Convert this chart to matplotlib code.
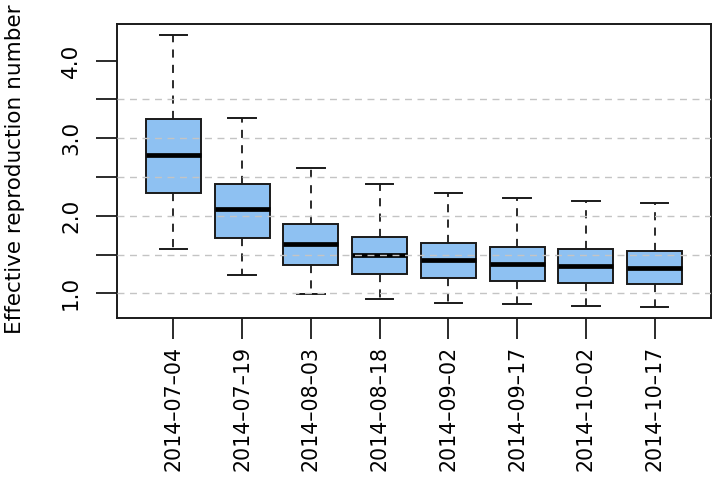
import matplotlib
matplotlib.use("Agg")
import matplotlib.pyplot as plt

dates = ["2014-07-04", "2014-07-19", "2014-08-03", "2014-08-18",
         "2014-09-02", "2014-09-17", "2014-10-02", "2014-10-17"]
whisk_lo = [1.572, 1.232, 0.996, 0.923, 0.880, 0.858, 0.836, 0.823]
q1 = [2.294, 1.714, 1.365, 1.254, 1.198, 1.159, 1.133, 1.120]
med = [2.785, 2.084, 1.636, 1.490, 1.426, 1.383, 1.352, 1.332]
q3 = [3.245, 2.406, 1.899, 1.732, 1.645, 1.598, 1.568, 1.542]
whisk_hi = [4.333, 3.267, 2.617, 2.406, 2.299, 2.230, 2.187, 2.161]
yticks = [1.0, 1.5, 2.0, 2.5, 3.0, 3.5, 4.0]
grid_levels = [1.0, 1.5, 2.0, 2.5, 3.0, 3.5]

plt.rcParams['font.family'] = ['DejaVu Sans']

fig = plt.figure(figsize=(7.15, 4.78), dpi=100)
ax = fig.add_axes([117/715, (478-318)/478, 594/715, 294/478])

stats = []
for i in range(len(dates)):
    stats.append(dict(whislo=whisk_lo[i], q1=q1[i], med=med[i], q3=q3[i],
                      whishi=whisk_hi[i], fliers=[], label=dates[i]))

pos = list(range(1, len(dates) + 1))
ax.bxp(stats, positions=pos, widths=0.8, patch_artist=True, showfliers=False,
       boxprops=dict(facecolor='#8EC1F2', edgecolor='#1a1a1a', linewidth=1.4),
       medianprops=dict(color='black', linewidth=3.4, solid_capstyle='butt'),
       whiskerprops=dict(color='#1a1a1a', linewidth=1.3, linestyle=(0, (4.5, 4))),
       capprops=dict(color='#1a1a1a', linewidth=1.4),
       capwidths=0.4)

for g in grid_levels:
    ax.axhline(g, color='#c4c4c4', linewidth=1.0, linestyle=(0, (5, 4)), zorder=5)

lo = min(whisk_lo); hi = max(whisk_hi); r = hi - lo
ax.set_ylim(lo - 0.04 * r, hi + 0.04 * r)
ax.set_xlim(0.5 - 0.32, len(dates) + 0.5 + 0.32)

ax.set_yticks(yticks)
ax.set_yticklabels([f"{t:.1f}" if t == int(t) else "" for t in yticks],
                   rotation=90, va='center', fontsize=15.5)
ax.set_xticks(pos)
ax.set_xticklabels([d.replace('-', '\u2013') for d in dates], rotation=90,
                   fontsize=14.8)
ax.tick_params(axis='both', direction='out', length=15, width=1.3, color='#1a1a1a')
ax.tick_params(axis='y', pad=11)
ax.tick_params(axis='x', pad=5)

for s in ax.spines.values():
    s.set_linewidth(1.4)
    s.set_color('#1a1a1a')

fig.text(25/715, 1 - 169/478, "Effective reproduction number", rotation=90,
         ha='right', va='center', fontsize=15.5)

fig.savefig("out.png", dpi=100)
